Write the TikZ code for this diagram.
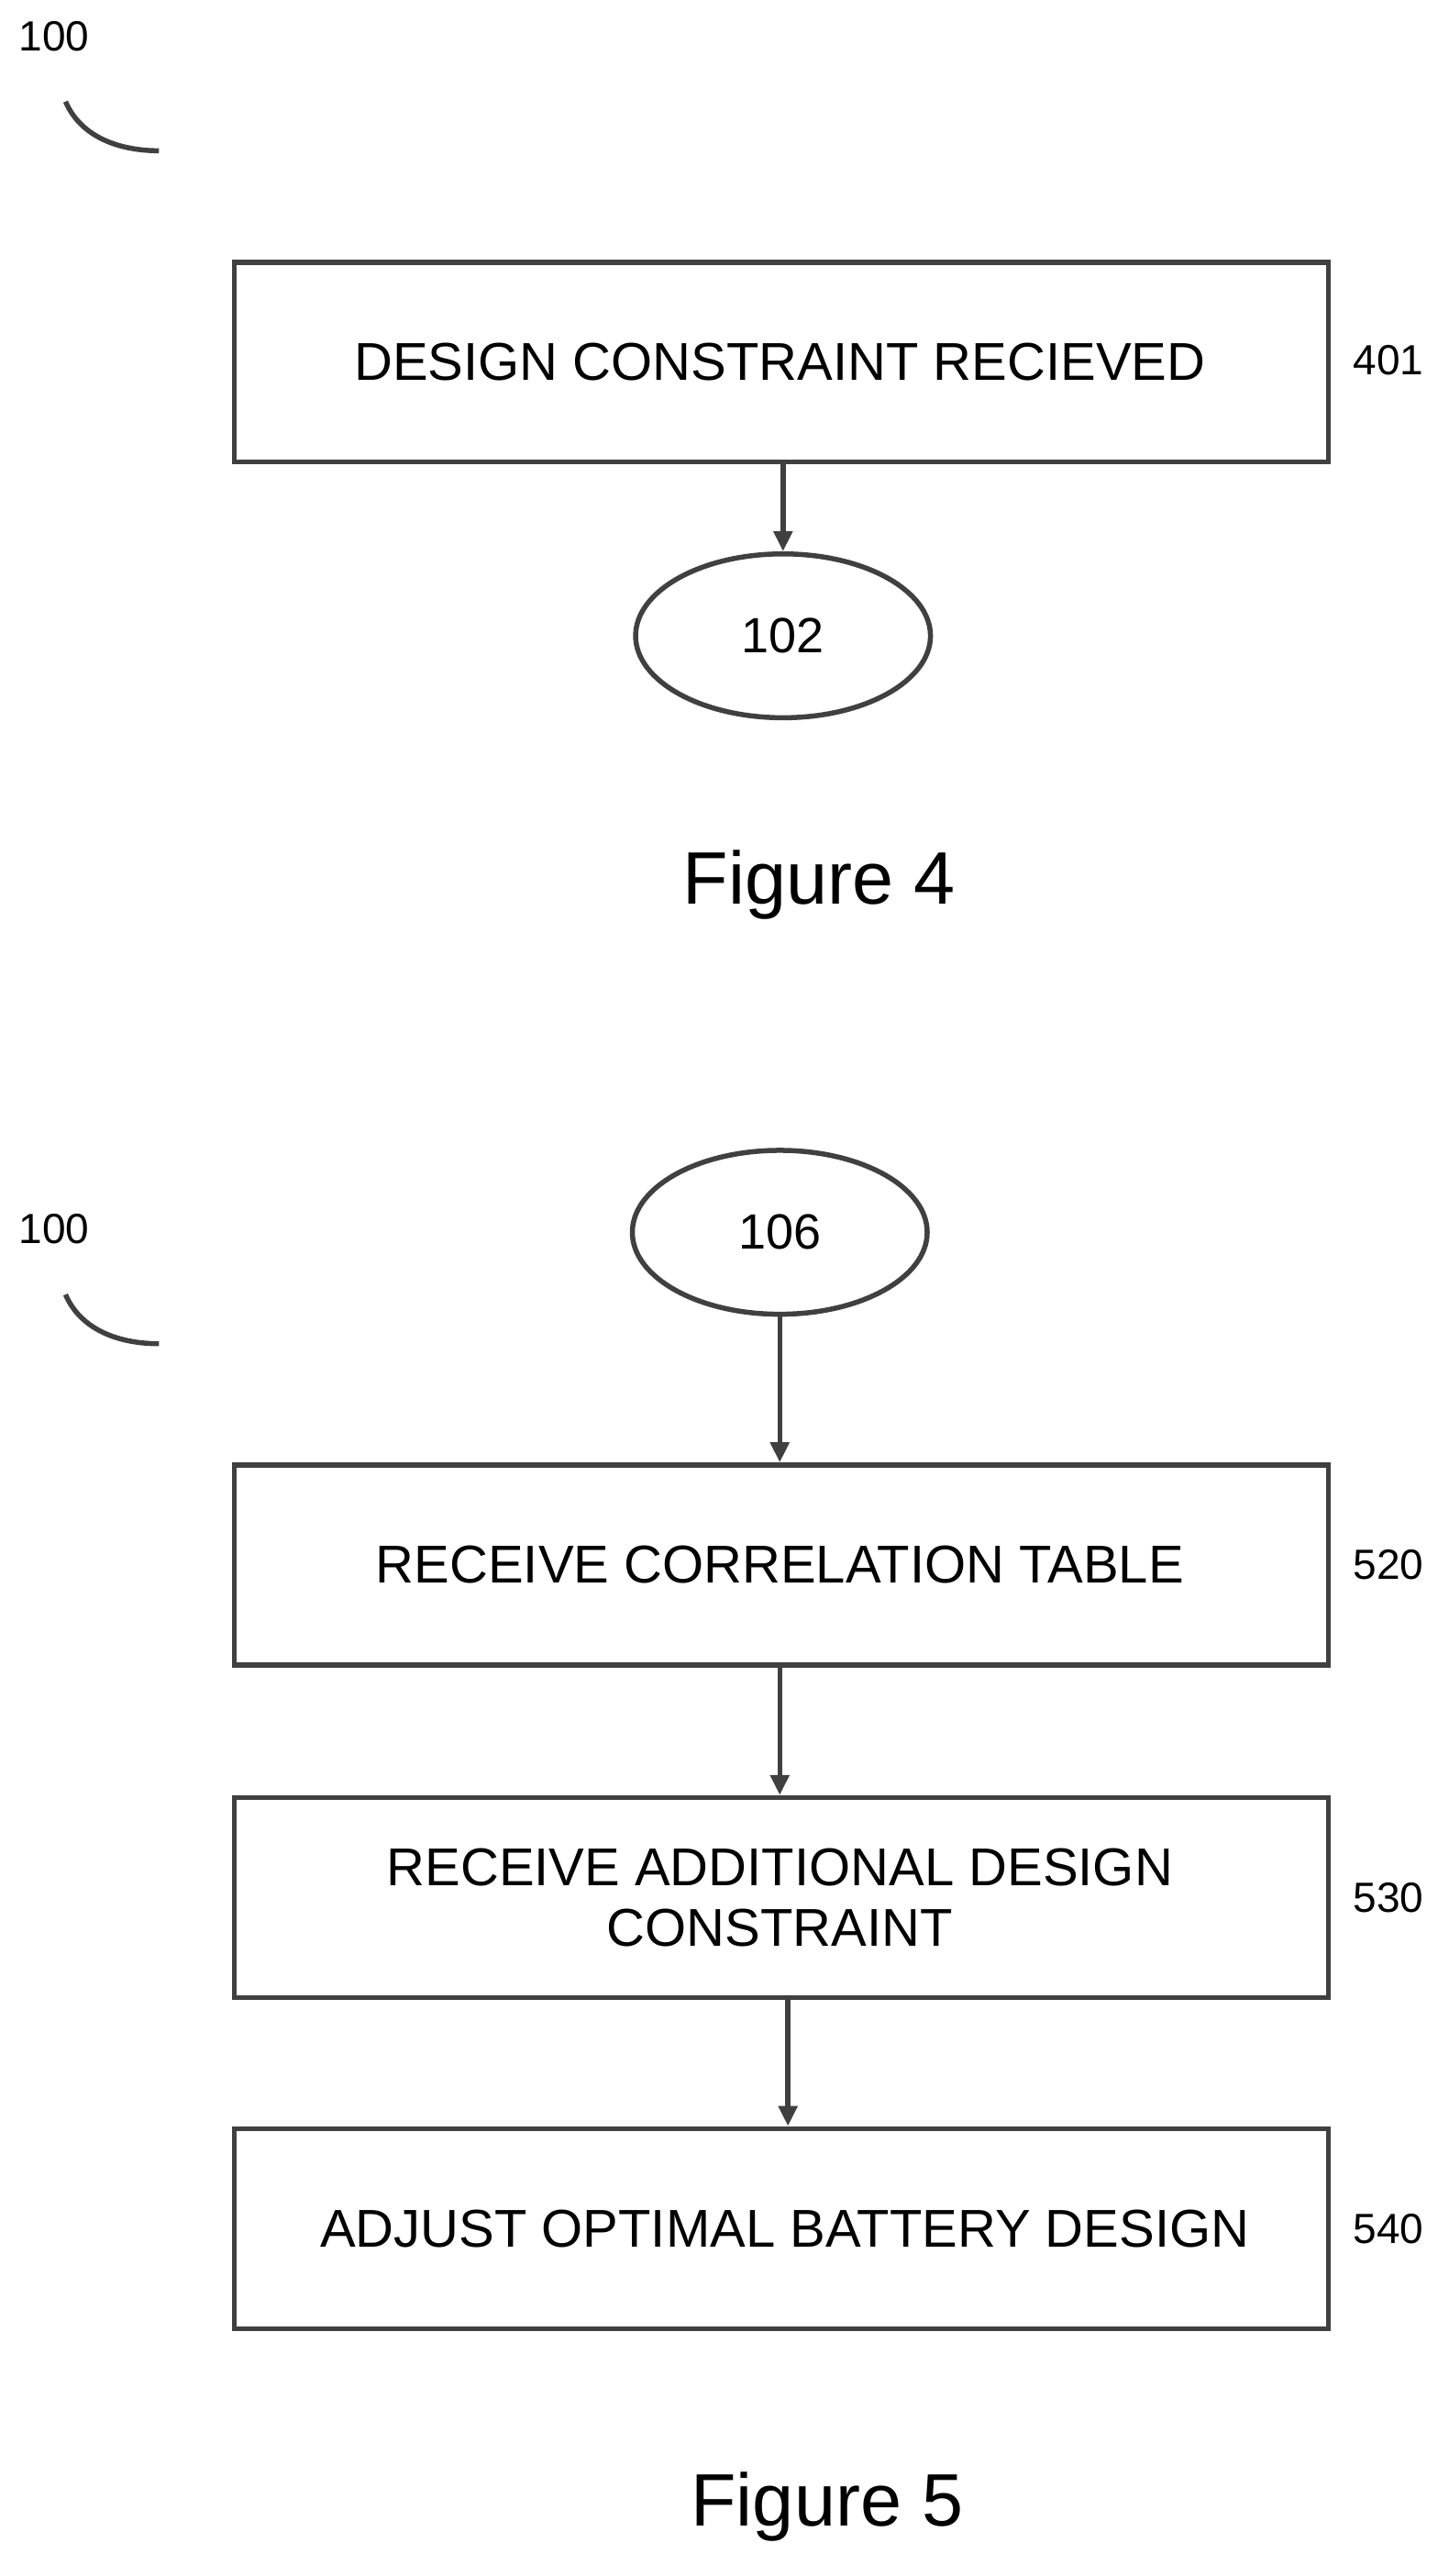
\documentclass[tikz,border=0pt]{standalone}
\usepackage{fontspec}
\setmainfont{Liberation Sans}
\usetikzlibrary{shapes.geometric,arrows.meta}
\begin{document}
\begin{tikzpicture}[x=1.786pt,y=-1.786pt,
  ln/.style={draw=black!75,line width=5.5pt},
  box/.style={ln,minimum width=668*1.786pt,minimum height=122*1.786pt,inner sep=0pt},
  btxt/.style={font=\fontsize{58}{66}\selectfont,align=center},
  ell/.style={ln,ellipse,minimum width=180*1.786pt,minimum height=100*1.786pt,inner sep=0pt,font=\fontsize{54}{60}\selectfont},
  lab/.style={font=\fontsize{46}{52}\selectfont,anchor=west},
  fig/.style={font=\fontsize{81}{90}\selectfont},
  arr/.style={ln,-{Triangle[length=22pt,width=20pt]}}]
\useasboundingbox (0,0) rectangle (884,1572);
\node[lab,anchor=center] (r1) at (33,22) {100};
\coordinate (c1a) at (40,62); \coordinate (c1b) at (97,92);
\draw[ln] (c1a) .. controls (50,85) and (75,92) .. (c1b);
\node[box] (b401) at (477,221) {};
\node[btxt] (t401) at (476,221) {DESIGN CONSTRAINT RECIEVED};
\node[lab] (l401) at (824,220) {401};
\node[ell] (e102) at (478,388) {102};
\draw[arr] (b401.south -| e102.north) -- (e102.north);
\node[fig] (f4) at (500,540) {Figure 4};

\node[lab,anchor=center] (r2) at (33,750) {100};
\coordinate (c2a) at (40,790); \coordinate (c2b) at (97,820);
\draw[ln] (c2a) .. controls (50,813) and (75,820) .. (c2b);
\node[ell] (e106) at (476,752) {106};
\node[box] (b520) at (477,955) {};
\node[btxt] (t520) at (476,955) {RECEIVE CORRELATION TABLE};
\node[lab] (l520) at (824,955) {520};
\node[box] (b530) at (477,1158) {};
\node[btxt] (t530) at (476,1158) {RECEIVE ADDITIONAL DESIGN\\CONSTRAINT};
\node[lab] (l530) at (824,1158) {530};
\node[box] (b540) at (477,1360) {};
\node[btxt] (t540) at (479,1360) {ADJUST OPTIMAL BATTERY DESIGN};
\node[lab] (l540) at (824,1360) {540};
\draw[arr] (e106.south) -- (e106.south |- b520.north);
\draw[arr] (b520.south -| e106.south) -- (b530.north -| e106.south);
\coordinate (a3) at (481,1218);
\draw[arr] (a3) -- (a3 |- b540.north);
\node[fig] (f5) at (505,1530) {Figure 5};
\end{tikzpicture}
\end{document}
